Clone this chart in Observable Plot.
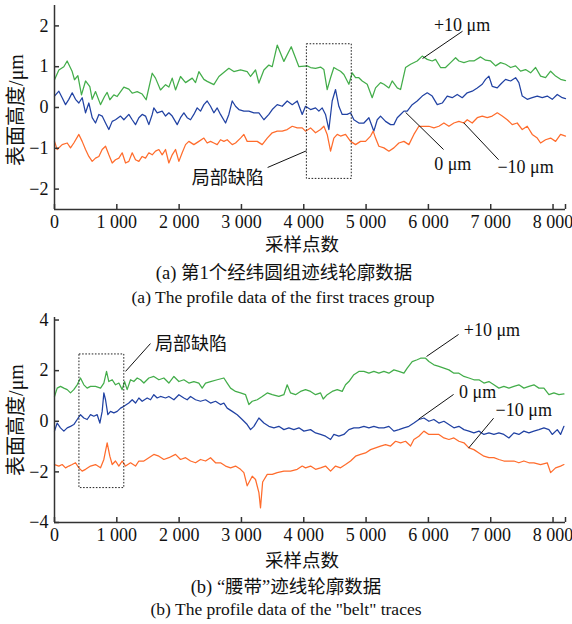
<!DOCTYPE html>
<html>
<head>
<meta charset="utf-8">
<script src="https://cdn.jsdelivr.net/npm/d3@7"></script>
<script src="https://cdn.jsdelivr.net/npm/@observablehq/plot@0.6"></script>
<style>
  html, body { margin: 0; padding: 0; background: #fff; }
  #root { position: relative; width: 572px; height: 624px; overflow: hidden; }
  .panel { position: absolute; left: 0; }
  .cap { position: absolute; left: 0; width: 572px; text-align: center; line-height: 1; color: #111; white-space: nowrap; }
  .zh { font-family: "Liberation Serif", "Noto Sans CJK SC", serif; font-size: 18.5px; }
  .en { font-family: "Liberation Serif", serif; font-size: 17.5px; }
  .ylab { position: absolute; line-height: 1; white-space: nowrap; color: #111;
          font-family: "Liberation Serif", "Noto Sans CJK SC", serif; font-size: 20px;
          transform: translate(-50%, -50%) rotate(-90deg); }
</style>
</head>
<body>
<div id="root"></div>
<script>
// ---------------- Data ----------------
const xTicks = [0, 1000, 2000, 3000, 4000, 5000, 6000, 7000, 8000, 8200];
const yTicksA = [-2, -1, 0, 1, 2];
const yTicksB = [-4, -2, 0, 2, 4];
const seriesNames = ["+10 μm", "0 μm", "−10 μm"];

// Panel (a): first traces group  [sample, height µm]
const aPlus10 = [[0,0.68],[70,0.92],[150,1.00],[203,1.14],[284,0.88],[321,0.68],[375,0.78],[433,0.31],[498,0.65],[567,0.51],[605,0.20],[658,0.39],[738,0.07],[803,0.27],[845,0.37],[888,0.19],[952,0.31],[1006,0.27],[1113,0.50],[1193,0.45],[1247,0.35],[1327,0.39],[1407,0.33],[1471,0.19],[1568,0.84],[1621,0.72],[1701,0.43],[1782,0.56],[1835,0.50],[1889,0.72],[1942,0.43],[2022,0.76],[2103,0.61],[2210,0.72],[2263,0.61],[2317,0.88],[2397,0.69],[2450,0.64],[2557,0.56],[2638,0.76],[2798,0.96],[2878,0.88],[2985,0.92],[3092,0.88],[3146,0.76],[3226,0.92],[3280,0.60],[3360,0.92],[3440,1.04],[3494,1.00],[3574,1.53],[3681,1.13],[3799,1.49],[3922,1.00],[4055,1.02],[4109,0.98],[4189,0.96],[4269,0.99],[4323,0.93],[4376,0.44],[4430,0.73],[4483,0.98],[4537,0.93],[4590,0.89],[4644,0.81],[4724,0.57],[4777,0.85],[4831,0.73],[4884,0.73],[4938,0.65],[5018,0.57],[5098,0.24],[5152,0.48],[5232,0.61],[5286,0.57],[5366,0.48],[5419,0.65],[5500,0.48],[5553,0.44],[5633,0.98],[5714,1.06],[5820,1.14],[5901,1.26],[5981,1.18],[6061,1.14],[6115,1.18],[6195,0.98],[6275,0.98],[6356,1.10],[6436,1.22],[6489,1.14],[6570,1.10],[6650,1.14],[6730,1.14],[6837,1.24],[6917,1.16],[6998,1.14],[7078,1.02],[7158,1.10],[7238,1.06],[7319,0.98],[7399,1.02],[7479,0.89],[7559,0.93],[7640,0.85],[7720,0.98],[7800,0.77],[7880,0.73],[7961,0.89],[8041,0.77],[8121,0.69],[8200,0.66]];
const aZero = [[0,0.28],[70,0.40],[123,0.24],[177,0.07],[230,0.20],[284,0.36],[337,0.20],[391,0.11],[444,0.24],[498,-0.13],[551,0.11],[605,-0.25],[658,-0.38],[712,-0.17],[765,-0.21],[819,-0.38],[872,-0.54],[926,-0.34],[979,-0.30],[1060,-0.21],[1113,-0.30],[1193,-0.17],[1247,-0.30],[1300,-0.42],[1354,-0.25],[1407,-0.17],[1461,-0.21],[1514,-0.42],[1568,-0.17],[1594,-0.01],[1648,-0.13],[1728,-0.09],[1782,-0.21],[1835,-0.13],[1889,-0.21],[1969,-0.42],[2022,-0.25],[2076,-0.13],[2129,-0.25],[2183,-0.30],[2236,-0.17],[2290,-0.01],[2343,-0.09],[2397,0.07],[2450,0.16],[2504,0.03],[2557,-0.13],[2611,-0.01],[2664,-0.17],[2745,-0.38],[2798,-0.17],[2852,0.16],[2905,0.03],[2959,-0.05],[3039,-0.09],[3119,-0.09],[3200,-0.13],[3280,-0.13],[3360,-0.30],[3440,-0.17],[3494,-0.05],[3574,0.07],[3654,0.03],[3734,0.16],[3815,0.07],[3895,0.16],[3975,-0.17],[4028,0.03],[4109,-0.05],[4189,-0.01],[4242,-0.09],[4296,-0.01],[4349,-0.17],[4403,-0.54],[4456,0.16],[4510,0.44],[4563,0.03],[4617,-0.17],[4697,-0.17],[4751,-0.13],[4804,-0.30],[4884,-0.38],[4965,-0.38],[5045,-0.25],[5125,-0.58],[5179,-0.30],[5232,-0.21],[5312,-0.34],[5393,-0.42],[5446,-0.42],[5500,-0.25],[5553,-0.17],[5607,-0.09],[5660,-0.09],[5740,0.07],[5820,0.16],[5901,0.28],[5981,0.36],[6061,0.28],[6142,0.07],[6222,0.11],[6302,0.28],[6382,0.24],[6463,0.32],[6543,0.24],[6623,0.36],[6703,0.40],[6784,0.48],[6864,0.57],[6917,0.69],[6971,0.77],[7024,0.52],[7105,0.48],[7158,0.57],[7238,0.69],[7319,0.65],[7399,0.73],[7452,0.61],[7506,0.28],[7586,0.20],[7666,0.24],[7747,0.28],[7827,0.24],[7907,0.28],[7987,0.20],[8068,0.32],[8148,0.24],[8200,0.22]];
const aMinus10 = [[0,-0.83],[43,-1.03],[123,-0.91],[204,-0.87],[257,-0.99],[310,-0.87],[391,-0.66],[444,-0.83],[498,-1.03],[551,-1.20],[605,-1.32],[658,-1.24],[712,-1.20],[765,-1.03],[819,-0.95],[872,-1.16],[926,-1.36],[979,-1.28],[1033,-1.24],[1086,-1.11],[1140,-1.36],[1193,-1.32],[1247,-1.11],[1300,-1.28],[1354,-1.32],[1407,-1.20],[1461,-1.24],[1514,-1.11],[1568,-1.16],[1621,-1.07],[1675,-1.03],[1728,-1.16],[1782,-1.03],[1835,-1.36],[1889,-1.16],[1942,-1.03],[1996,-1.32],[2049,-1.11],[2103,-0.91],[2156,-0.83],[2236,-0.91],[2317,-0.83],[2397,-0.75],[2450,-0.87],[2504,-0.83],[2557,-0.87],[2611,-0.91],[2664,-0.79],[2718,-0.83],[2771,-0.79],[2852,-0.91],[2905,-0.87],[2985,-0.75],[3039,-0.66],[3092,-0.83],[3173,-0.83],[3253,-0.83],[3333,-0.91],[3414,-0.75],[3494,-0.62],[3574,-0.58],[3654,-0.58],[3734,-0.54],[3815,-0.46],[3895,-0.50],[3975,-0.50],[4028,-0.58],[4109,-0.50],[4189,-0.62],[4269,-0.54],[4323,-0.46],[4376,-0.66],[4430,-1.07],[4483,-0.75],[4537,-0.66],[4590,-0.70],[4670,-0.66],[4751,-0.83],[4831,-0.91],[4911,-0.83],[4991,-0.83],[5072,-0.70],[5114,-0.58],[5152,-0.75],[5205,-0.95],[5286,-0.99],[5366,-1.07],[5446,-0.99],[5526,-0.87],[5607,-0.83],[5687,-0.91],[5767,-0.66],[5847,-0.46],[5928,-0.46],[6008,-0.46],[6088,-0.50],[6168,-0.46],[6249,-0.38],[6329,-0.46],[6409,-0.38],[6489,-0.34],[6570,-0.38],[6623,-0.30],[6703,-0.38],[6784,-0.25],[6864,-0.21],[6944,-0.25],[7024,-0.21],[7105,-0.13],[7185,-0.21],[7265,-0.30],[7345,-0.42],[7425,-0.38],[7506,-0.54],[7586,-0.46],[7666,-0.66],[7747,-0.75],[7800,-0.87],[7880,-0.79],[7961,-0.75],[8041,-0.83],[8121,-0.66],[8200,-0.70]];

// Panel (b): "belt" traces  [sample, height µm]
const bPlus10 = [[0,0.98],[43,1.31],[96,1.38],[150,1.31],[204,1.25],[257,1.12],[310,1.25],[364,1.44],[417,1.71],[471,1.44],[524,1.31],[578,1.38],[658,1.38],[739,1.31],[792,1.51],[835,1.97],[872,1.57],[926,1.64],[979,1.44],[1033,1.51],[1086,1.25],[1124,1.57],[1166,1.25],[1220,1.64],[1273,1.57],[1327,1.71],[1380,1.64],[1434,1.51],[1514,1.71],[1594,1.77],[1675,1.64],[1755,1.71],[1835,1.51],[1916,1.77],[1996,1.57],[2076,1.64],[2156,1.51],[2236,1.57],[2316,1.51],[2370,1.31],[2424,1.51],[2504,1.57],[2611,1.64],[2718,1.71],[2771,1.51],[2825,1.31],[2905,1.18],[2985,1.12],[3066,1.05],[3119,0.66],[3173,0.79],[3253,0.85],[3333,0.98],[3414,1.12],[3494,1.05],[3600,0.98],[3681,1.05],[3734,1.44],[3788,1.12],[3868,1.05],[3948,1.18],[4028,1.25],[4109,1.18],[4189,1.05],[4269,1.12],[4312,0.88],[4376,1.05],[4456,1.18],[4537,1.25],[4617,1.18],[4670,1.44],[4724,1.57],[4804,1.84],[4884,1.97],[4965,1.97],[5045,1.90],[5125,1.97],[5205,1.90],[5286,1.97],[5366,1.90],[5446,2.03],[5526,1.97],[5607,1.90],[5660,2.10],[5740,2.36],[5820,2.43],[5874,2.49],[5954,2.49],[6008,2.36],[6088,2.23],[6168,2.17],[6249,2.10],[6329,2.03],[6409,1.90],[6489,1.90],[6570,1.77],[6650,1.71],[6730,1.64],[6811,1.64],[6891,1.51],[6971,1.57],[7051,1.44],[7131,1.31],[7211,1.38],[7292,1.31],[7372,1.38],[7452,1.44],[7532,1.31],[7613,1.38],[7693,1.44],[7773,1.31],[7854,1.31],[7934,1.05],[8014,1.12],[8094,1.05],[8175,1.08]];
const bZero = [[0,-0.39],[43,-0.07],[96,-0.26],[150,-0.39],[204,-0.26],[257,-0.20],[310,-0.13],[364,0.07],[417,0.26],[471,0.13],[524,0.07],[578,0.26],[631,0.20],[685,0.26],[728,-0.07],[765,0.39],[792,1.12],[819,0.85],[856,0.26],[899,0.39],[952,0.33],[1006,0.39],[1060,0.52],[1113,0.59],[1193,0.72],[1247,0.85],[1300,0.72],[1354,0.92],[1407,0.79],[1487,0.92],[1541,0.85],[1594,1.05],[1648,0.92],[1701,0.98],[1782,0.92],[1835,0.98],[1916,0.85],[1996,1.05],[2076,0.92],[2129,0.85],[2183,0.98],[2263,0.85],[2343,0.79],[2424,0.85],[2504,0.72],[2584,0.79],[2664,0.66],[2718,0.72],[2771,0.52],[2852,0.39],[2932,0.26],[3012,0.07],[3092,-0.13],[3146,-0.33],[3200,-0.20],[3280,0.13],[3360,-0.07],[3440,-0.20],[3521,-0.26],[3600,-0.20],[3681,-0.33],[3761,-0.26],[3841,-0.33],[3922,-0.26],[4002,-0.39],[4109,-0.33],[4189,-0.46],[4269,-0.52],[4349,-0.59],[4430,-0.72],[4483,-0.52],[4563,-0.59],[4644,-0.52],[4724,-0.33],[4804,-0.26],[4884,-0.26],[4965,-0.20],[5045,-0.26],[5125,-0.20],[5205,-0.26],[5286,-0.26],[5366,-0.20],[5446,-0.39],[5526,-0.33],[5607,-0.26],[5687,-0.20],[5767,-0.07],[5847,0.07],[5928,0.13],[6008,0.00],[6088,0.07],[6168,-0.07],[6249,0.00],[6329,-0.13],[6409,-0.26],[6489,-0.20],[6570,-0.33],[6650,-0.39],[6730,-0.46],[6811,-0.39],[6891,-0.52],[6971,-0.46],[7051,-0.52],[7131,-0.46],[7211,-0.52],[7292,-0.66],[7372,-0.46],[7452,-0.52],[7532,-0.39],[7613,-0.46],[7693,-0.39],[7773,-0.33],[7854,-0.26],[7934,-0.33],[7987,-0.52],[8068,-0.33],[8121,-0.52],[8175,-0.20]];
const bMinus10 = [[0,-1.71],[70,-1.77],[123,-1.71],[177,-1.84],[230,-1.77],[284,-1.71],[337,-1.64],[391,-1.84],[444,-1.97],[498,-1.90],[578,-1.77],[658,-1.71],[739,-1.84],[792,-1.51],[845,-0.85],[888,-1.38],[926,-1.71],[979,-1.57],[1033,-1.77],[1086,-1.57],[1140,-1.77],[1220,-1.64],[1300,-1.77],[1354,-1.57],[1434,-1.57],[1514,-1.44],[1594,-1.31],[1675,-1.38],[1755,-1.51],[1835,-1.44],[1942,-1.31],[2022,-1.51],[2103,-1.44],[2183,-1.57],[2263,-1.64],[2343,-1.51],[2424,-1.57],[2504,-1.44],[2584,-1.64],[2664,-1.64],[2745,-1.77],[2825,-1.84],[2905,-1.77],[2985,-1.90],[3039,-2.03],[3092,-2.55],[3173,-2.17],[3226,-2.30],[3280,-2.82],[3306,-3.42],[3340,-2.40],[3414,-2.10],[3494,-2.10],[3574,-2.03],[3681,-1.97],[3788,-1.97],[3895,-1.90],[3975,-1.77],[4028,-1.84],[4109,-1.77],[4189,-1.90],[4269,-1.84],[4349,-1.77],[4430,-1.97],[4510,-1.77],[4590,-1.84],[4670,-1.71],[4751,-1.57],[4831,-1.38],[4911,-1.31],[4991,-1.25],[5072,-1.12],[5152,-1.05],[5232,-0.98],[5312,-0.92],[5393,-0.98],[5473,-0.79],[5553,-0.85],[5633,-0.79],[5714,-0.98],[5767,-0.72],[5847,-0.59],[5928,-0.39],[6008,-0.52],[6088,-0.52],[6168,-0.52],[6249,-0.66],[6329,-0.72],[6409,-0.66],[6489,-0.79],[6570,-0.85],[6650,-1.05],[6730,-1.12],[6811,-1.25],[6891,-1.38],[6971,-1.44],[7051,-1.44],[7131,-1.51],[7211,-1.57],[7292,-1.57],[7372,-1.57],[7452,-1.64],[7532,-1.57],[7613,-1.64],[7693,-1.64],[7800,-1.71],[7907,-1.64],[7961,-2.03],[8041,-1.84],[8121,-1.77],[8175,-1.71]];

// Annotations: defect box [x1, x2, y1, y2], leader lines [x1, y1, x2, y2], labels [x, y, text]
const aBox = [[4050, 4770, -1.75, 1.55]];
const aLeaders = [[3420, -1.47, 4045, -1.06], [6548, 1.87, 5906, 1.20], [5634, -0.12, 6243, -1.03], [6564, -0.37, 7126, -1.28]];
const aLabels = [[6540, 2.02, "+10 μm"], [6390, -1.38, "0 μm"], [7560, -1.47, "−10 μm"]];
const aDefect = [[2780, -1.74, "局部缺陷"]];

const bBox = [[400, 1120, -2.64, 2.64]];
const bLeaders = [[1140, 1.97, 1540, 3.07], [5970, 2.56, 6484, 3.43], [5842, 0.08, 6404, 1.06], [6645, -1.06, 7046, 0.12]];
const bLabels = [[7020, 3.58, "+10 μm"], [6790, 1.14, "0 μm"], [7530, 0.43, "−10 μm"]];
const bDefect = [[2190, 3.06, "局部缺陷"]];

const colors = ["#43ad4a", "#2142a3", "#ff6c2c"];
const yLabel = "表面高度/μm";
const xLabel = "采样点数";

// --------------- Drawing ---------------
const serif = "'Liberation Serif', 'Noto Sans CJK SC', serif";
const fmtX = v => v === 8200 ? "" : (v === 0 ? "0" : `${v / 1000} 000`);
const fmtY = v => v < 0 ? "−" + Math.abs(v) : String(v);

function panel({series, yDomain, yTicks, box, leaders, labels, defect, height, marginTop, marginBottom}) {
  const marks = [];
  series.forEach((s, i) => {
    marks.push(Plot.line(s, {x: d => d[0], y: d => d[1], stroke: colors[i], strokeWidth: 1.25}));
  });
  marks.push(
    Plot.rect(box, {x1: d => d[0], x2: d => d[1], y1: d => d[2], y2: d => d[3], fill: "none", stroke: "#222", strokeWidth: 1, strokeDasharray: "1.6,1.6"}),
    Plot.link(leaders, {x1: d => d[0], y1: d => d[1], x2: d => d[2], y2: d => d[3], stroke: "#111", strokeWidth: 1}),
    Plot.text(labels, {x: d => d[0], y: d => d[1], text: d => d[2], fontSize: 18, fill: "#111", fontFamily: serif}),
    Plot.text(defect, {x: d => d[0], y: d => d[1], text: d => d[2], fontSize: 18, fill: "#111", fontFamily: "'Noto Sans CJK SC', sans-serif"}),
    Plot.ruleX([0], {stroke: "#333", strokeWidth: 1.5}),
    Plot.ruleY([yDomain[0]], {stroke: "#333", strokeWidth: 1.5}),
    Plot.axisX(xTicks, {tickSize: -5, tickFormat: () => "", label: null, stroke: "#333", strokeWidth: 1.5}),
    Plot.axisX(xTicks, {tickSize: 0, tickPadding: 6, tickFormat: fmtX, label: null, fontSize: 18, fill: "#111"}),
    Plot.axisY(yTicks, {tickSize: -5, tickFormat: () => "", label: null, stroke: "#333", strokeWidth: 1.5}),
    Plot.axisY(yTicks, {tickSize: 0, tickPadding: 6, tickFormat: fmtY, fontSize: 18, fill: "#111", label: null})
  );
  return Plot.plot({
    width: 572, height, marginLeft: 54, marginRight: 7, marginTop, marginBottom,
    style: {fontFamily: serif, fontSize: "18px", color: "#111", background: "transparent"},
    x: {domain: [0, 8200]},
    y: {domain: yDomain},
    marks
  });
}

const root = document.getElementById("root");
const pa = panel({series: [aPlus10, aZero, aMinus10], yDomain: [-2.5, 2.5], yTicks: yTicksA, box: aBox, leaders: aLeaders, labels: aLabels, defect: aDefect, height: 236, marginTop: 5, marginBottom: 27});
pa.classList.add("panel"); pa.style.top = "0px";
root.appendChild(pa);

const pb = panel({series: [bPlus10, bZero, bMinus10], yDomain: [-4, 4.1], yTicks: yTicksB, box: bBox, leaders: bLeaders, labels: bLabels, defect: bDefect, height: 240, marginTop: 7, marginBottom: 28});
pb.classList.add("panel"); pb.style.top = "310px";
root.appendChild(pb);

// rotated y-axis titles
[[16, 110], [16, 420]].forEach(([cx, cy]) => {
  const d = document.createElement("div");
  d.className = "ylab";
  d.style.left = cx + "px";
  d.style.top = cy + "px";
  d.textContent = yLabel;
  root.appendChild(d);
});

const caps = [
  ["zh", 236, xLabel, 302],
  ["zh", 264, "(a) 第1个经纬圆组迹线轮廓数据", 284],
  ["en", 289, "(a) The profile data of the first traces group", 283],
  ["zh", 552, xLabel, 302],
  ["zh", 578, "(b) “腰带”迹线轮廓数据", 286],
  ["en", 601, "(b) The profile data of the \"belt\" traces", 286]
];
caps.forEach(([cls, top, txt, cx]) => {
  const d = document.createElement("div");
  d.className = "cap " + cls;
  d.style.top = top + "px";
  d.style.left = (cx - 286) + "px";
  d.textContent = txt;
  root.appendChild(d);
});
</script>
</body>
</html>
